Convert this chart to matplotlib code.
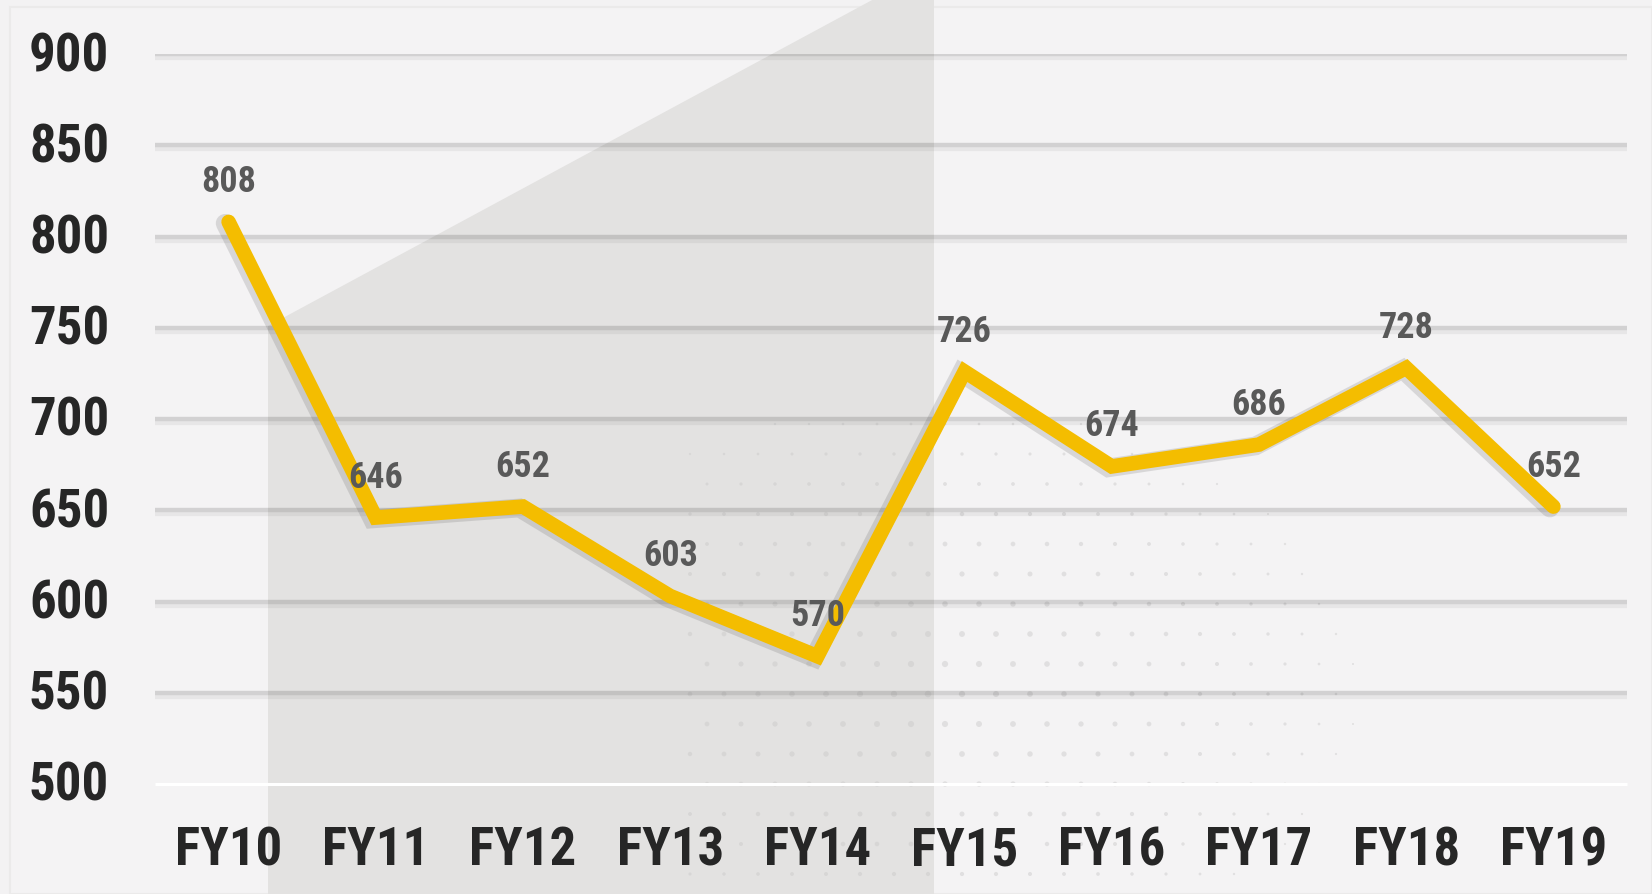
import matplotlib

matplotlib.use("Agg")

import matplotlib.pyplot as plt
import matplotlib.patheffects as pe
import matplotlib.transforms as mtransforms
import numpy as np
from matplotlib.patches import Polygon, Rectangle

years = ["FY10", "FY11", "FY12", "FY13", "FY14", "FY15", "FY16", "FY17", "FY18", "FY19"]
values = [808, 646, 652, 603, 570, 726, 674, 686, 728, 652]
y_ticks = [500, 550, 600, 650, 700, 750, 800, 850, 900]

W, H = 1652, 895
BG = "#f3f2f3"
PANEL = "#e3e2e1"
GOLD = "#f4bd00"

plt.rcParams["font.family"] = ["Roboto Condensed", "DejaVu Sans"]

fig = plt.figure(figsize=(W / 100, H / 100), dpi=100, facecolor=BG)


def px(x, y):
    # pixel (top-left origin) -> figure fraction
    return (x / W, 1 - y / H)


# faint outer frame
fig.patches.append(Rectangle(px(10, H), (W - 10) / W, (H - 8) / H, transform=fig.transFigure,
                             facecolor="#f4f3f4", edgecolor="#ebeaea", lw=1.5, zorder=0))
# darker slanted panel behind the left half
panel_pts = [px(268, H), px(268, 327), px(874, 0), px(934, 0), px(934, H)]
fig.patches.append(Polygon(panel_pts, closed=True, transform=fig.transFigure,
                           facecolor=PANEL, edgecolor="none", zorder=1))

# halftone dots fading out from the lower middle
gx, gy = np.meshgrid(np.arange(690, 1420, 34), np.arange(395, 900, 30))
gx = gx + (np.arange(gx.shape[0])[:, None] % 2) * 17
d = np.hypot((gx - 930) / 430, (gy - 690) / 290)
keep = d < 1
fx, fy = gx[keep] / W, 1 - gy[keep] / H
sizes = (1 - d[keep]) * 20 + 2
dot_ax = fig.add_axes([0, 0, 1, 1], zorder=2)
dot_ax.set_xlim(0, 1)
dot_ax.set_ylim(0, 1)
dot_ax.axis("off")
dot_ax.scatter(fx, fy, s=sizes, color="#c9c8c8", alpha=0.45, linewidths=0)

ax = fig.add_axes([155 / W, (H - 785) / H, 1472 / W, 730 / H], zorder=3)
ax.set_facecolor("none")
ax.set_xlim(-0.5, 9.5)
ax.set_ylim(500, 900)
for s in ax.spines.values():
    s.set_visible(False)

# gridlines with a soft shadow
for v in y_ticks[1:]:
    ax.plot([-0.5, 9.53], [v - 1.2, v - 1.2], color="black", alpha=0.05, lw=6, solid_capstyle="butt", zorder=1)
    ax.plot([-0.5, 9.53], [v, v], color="black", alpha=0.09, lw=3.2, solid_capstyle="butt", zorder=1)
ax.plot([-0.5, 9.5], [500, 500], color="white", lw=2.2, solid_capstyle="butt", zorder=1, clip_on=False)

x = np.arange(len(years))
ax.plot(x, values, color=GOLD, lw=10.5, solid_capstyle="round", solid_joinstyle="miter", zorder=4,
        path_effects=[pe.SimpleLineShadow(offset=(-2.5, -1), shadow_color="#444444", alpha=0.16, linewidth=13.5),
                      pe.Normal()])

for xi, v in zip(x, values):
    ax.annotate(str(v), (xi, v), xytext=(0, 29.5), textcoords="offset points",
                ha="center", va="center", fontsize=26, fontweight="bold", color="#595959", zorder=5)

ax.set_xticks(x)
ax.set_xticklabels(years)
ax.set_yticks(y_ticks)
ax.set_yticklabels([str(t) for t in y_ticks])
ax.tick_params(length=0, colors="#262626", labelsize=38)
ax.tick_params(axis="x", pad=29)
ax.tick_params(axis="y", pad=33)
lift = mtransforms.ScaledTranslation(0, 4 / 100, fig.dpi_scale_trans)
for lab in ax.get_xticklabels() + ax.get_yticklabels():
    lab.set_fontweight("bold")
for lab in ax.get_yticklabels():
    lab.set_transform(lab.get_transform() + lift)

fig.savefig("out.png", dpi=100, facecolor=BG)
